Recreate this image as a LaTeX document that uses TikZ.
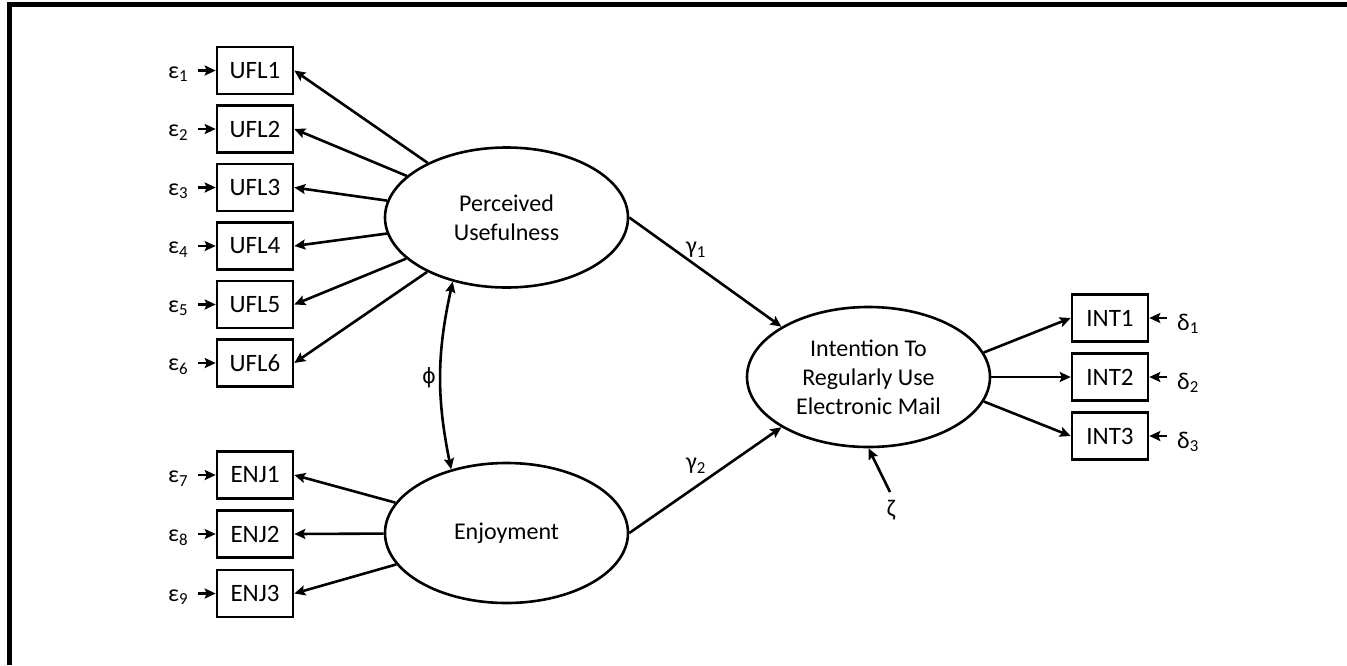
\documentclass[tikz,border=0pt]{standalone}
\usepackage{fontspec}
\setmainfont{Carlito}
\newfontfamily\symfont{DejaVu Sans}
\usetikzlibrary{arrows.meta,shapes.geometric}
\begin{document}
\begin{tikzpicture}[x=1pt,y=-1pt,
 box/.style={draw,line width=2.6pt,minimum width=76pt,minimum height=47pt,inner sep=0pt,font=\fontsize{25}{29}\selectfont},
 lat/.style={draw,ellipse,line width=2.6pt,minimum width=243pt,minimum height=140pt,inner sep=0pt,align=center,font=\fontsize{24}{29}\selectfont},
 arr/.style={line width=2.6pt,-{Stealth[length=11pt,width=10pt,inset=2pt]}},
 darr/.style={line width=2.6pt,{Stealth[length=11pt,width=10pt,inset=2pt]}-{Stealth[length=11pt,width=10pt,inset=2pt]}},
 lbl/.style={inner sep=0pt,font=\fontsize{24}{29}\selectfont},
]
\useasboundingbox (0,0) rectangle (1347,665);
\fill (6.7,2) rectangle (1347,7.3);
\fill (6.7,2) rectangle (12.3,665);

% latent variables
\node[lat] (pu) at (506.5,217.5) {Perceived\\Usefulness};
\node[lat] (enj) at (506.5,533) {Enjoyment};
\node[lat] (int) at (868.5,377) {Intention To\\Regularly Use\\Electronic Mail};

% UFL indicators
\foreach \i/\y in {1/70.5,2/129,3/187.5,4/246,5/304.5,6/363}{
  \node[box] (ufl\i) at (255,\y) {UFL\i};
  \node[lbl,anchor=base west] (e\i) at (168,\y+7.5) {ε\textsubscript{\i}};
  \coordinate (t\i) at (198,\y);
  \draw[arr] (t\i) -- (ufl\i.west);
  \draw[arr] (pu) -- (ufl\i.east);
}

% ENJ indicators
\foreach \i/\j/\y in {1/7/475,2/8/534,3/9/593.5}{
  \node[box] (enj\i) at (255,\y) {ENJ\i};
  \node[lbl,anchor=base west] (e\j) at (168,\y+7.5) {ε\textsubscript{\j}};
  \coordinate (t\j) at (198,\y);
  \draw[arr] (t\j) -- (enj\i.west);
  \draw[arr] (enj) -- (enj\i.east);
}

% INT indicators
\foreach \i/\y in {1/318,2/377,3/436}{
  \node[box] (int\i) at (1110,\y) {INT\i};
  \node[lbl,anchor=base west] (d\i) at (1177,\y+12) {δ\textsubscript{\i}};
  \coordinate (s\i) at (1167,\y);
  \draw[arr] (s\i) -- (int\i.east);
}
\draw[arr] (int.12) -- (int1.west);
\draw[arr] (int.east) -- (int2.west);
\draw[arr] (int.-12) -- (int3.west);

% structural paths
\draw[arr] (pu.east) -- (int.150);
\draw[arr] (enj.east) -- (int.210);
\node[lbl] (g1) at (696,250) {γ\textsubscript{1}};
\node[lbl] (g2) at (696,466) {γ\textsubscript{2}};

% covariance
\draw[darr] (pu.230) to[bend right=12] (enj.131);
\node[lbl,font=\symfont\fontsize{21}{25}\selectfont] (phi) at (429,378) {ϕ};

% disturbance
\node[lbl] (zeta) at (891,510) {ζ};
\coordinate (zt) at (890,492);
\draw[arr] (zt) -- (int.south);
\end{tikzpicture}
\end{document}
